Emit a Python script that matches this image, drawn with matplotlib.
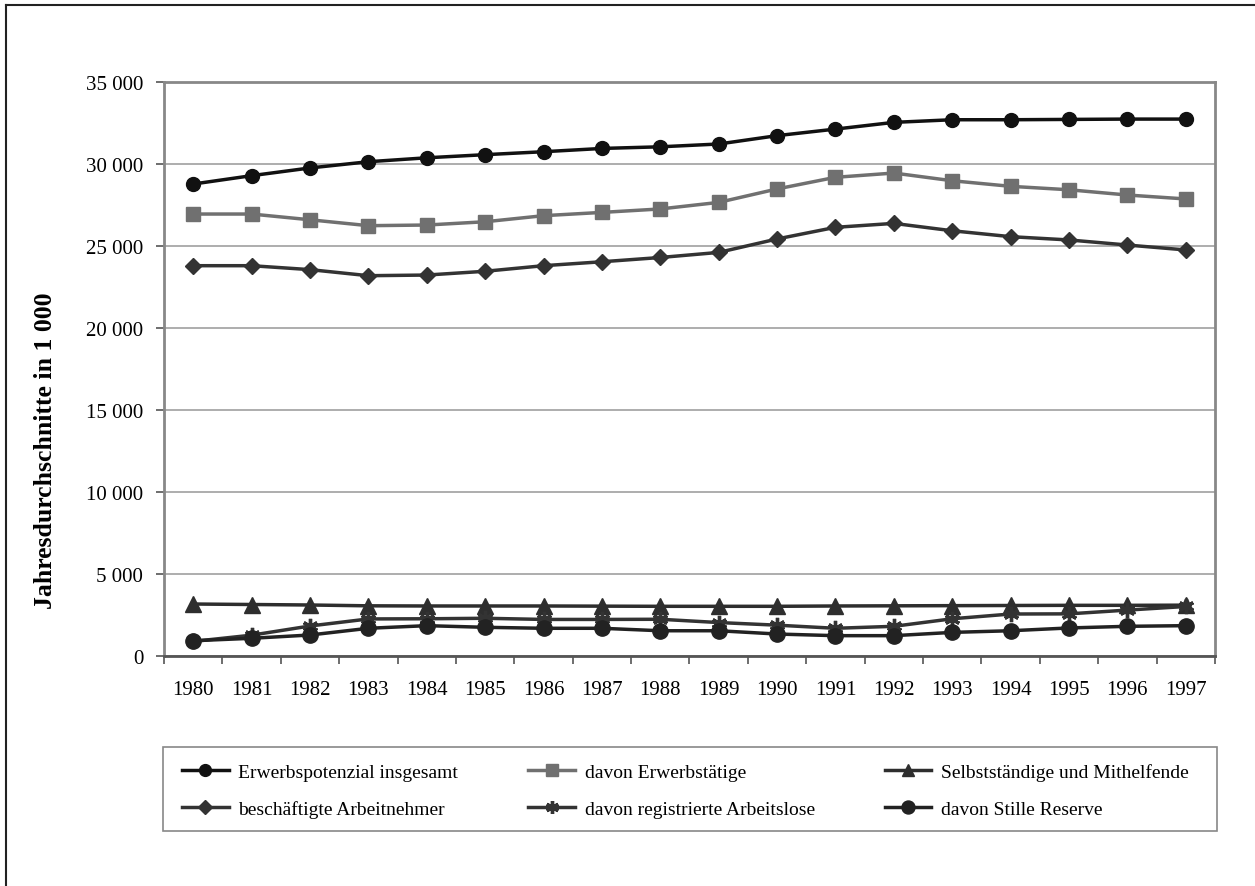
import matplotlib
matplotlib.use("Agg")
import matplotlib.pyplot as plt
from matplotlib.lines import Line2D
from matplotlib.patches import Rectangle
from matplotlib.ticker import FuncFormatter

plt.rcParams['font.family'] = ['Liberation Serif', 'DejaVu Serif']

years = [str(y) for y in range(1980, 1998)]

erwerbspotenzial = [28780, 29290, 29760, 30140, 30380, 30570, 30750, 30950, 31050,
                    31220, 31730, 32130, 32540, 32700, 32700, 32720, 32740, 32740]
erwerbstaetige = [26950, 26950, 26600, 26240, 26280, 26480, 26850, 27050, 27260,
                  27660, 28480, 29190, 29450, 28980, 28640, 28430, 28110, 27870]
selbststaendige = [3170, 3140, 3110, 3060, 3050, 3050, 3050, 3040, 3030,
                   3030, 3030, 3050, 3060, 3070, 3080, 3090, 3090, 3100]
arbeitnehmer = [23800, 23800, 23560, 23190, 23230, 23460, 23800, 24040, 24300,
                24610, 25430, 26140, 26380, 25930, 25570, 25370, 25060, 24760]
arbeitslose = [890, 1270, 1830, 2260, 2270, 2300, 2230, 2230, 2240,
               2040, 1880, 1690, 1810, 2270, 2560, 2570, 2800, 3020]
stille_reserve = [930, 1080, 1280, 1690, 1850, 1750, 1690, 1690, 1540,
                  1540, 1340, 1240, 1240, 1440, 1540, 1710, 1810, 1850]

labels = ["Erwerbspotenzial insgesamt", "davon Erwerbstätige", "Selbstständige und Mithelfende",
          "beschäftigte Arbeitnehmer", "davon registrierte Arbeitslose", "davon Stille Reserve"]

fig = plt.figure(figsize=(12.55, 8.87), dpi=100)
ax = fig.add_axes([0.1307, 0.2593, 0.8374, 0.6471])

x = range(len(years))
l1, = ax.plot(x, erwerbspotenzial, color='#111111', lw=2.5, marker='o', ms=10, label=labels[0])
l2, = ax.plot(x, erwerbstaetige, color='#707070', lw=2.5, marker='s', ms=10, label=labels[1])
l4, = ax.plot(x, arbeitnehmer, color='#333333', lw=2.5, marker='D', ms=8, label=labels[3])
l3, = ax.plot(x, selbststaendige, color='#2e2e2e', lw=2.5, marker='^', ms=11, label=labels[2])
l5, = ax.plot(x, arbeitslose, color='#333333', lw=2.5, marker=(6, 2, 0), ms=11, mew=2.4, label=labels[4])
l6, = ax.plot(x, stille_reserve, color='#222222', lw=2.5, marker='o', ms=11, label=labels[5])

ax.set_xlim(-0.5, len(years) - 0.5)
ax.set_ylim(0, 35000)
ax.set_yticks(range(0, 35001, 5000))
ax.yaxis.set_major_formatter(FuncFormatter(lambda v, p: f"{int(v):,}".replace(",", " ")))
ax.set_xticks(list(x))
ax.set_xticklabels(years)
ax.set_xticks([i - 0.5 for i in range(len(years) + 1)], minor=True)
ax.tick_params(axis='x', which='major', length=0, pad=17, labelsize=15)
ax.tick_params(axis='x', which='minor', length=6, width=1.2, color='#555555')
ax.tick_params(axis='y', length=6, width=1.2, color='#555555', labelsize=15, pad=9)
ax.yaxis.grid(True, color='#a0a0a0', lw=1.2)
ax.set_axisbelow(True)
for s in ['top', 'right', 'left']:
    ax.spines[s].set_color('#888888')
    ax.spines[s].set_linewidth(2)
ax.spines['bottom'].set_color('#555555')
ax.spines['bottom'].set_linewidth(2)

# y title sits lower than the axis centre in the original
fig.text(45 / 1255, (887 - 451) / 887, "Jahresdurchschnitte in 1 000", rotation=90,
         fontsize=18.5, fontweight='bold', ha='center', va='center')

# legend box drawn separately so the columns can sit like in the original
fig.add_artist(Rectangle((163 / 1255, (887 - 832) / 887), (1217 - 163) / 1255, 84 / 887,
                         transform=fig.transFigure, fill=False, edgecolor='#888888', lw=1.2))
handles = [l1, l4, l2, l5, l3, l6]
leg = fig.legend(handles=handles, labels=[h.get_label() for h in handles], ncol=3,
                 loc='center left', bbox_to_anchor=(182 / 1255, (887 - 791.5) / 887),
                 fontsize=14, frameon=False, borderaxespad=0, borderpad=0,
                 handlelength=2.4, handletextpad=0.5, columnspacing=3.6,
                 markerscale=0.85, labelspacing=1.0)

fig.add_artist(Line2D([0.005, 0.005], [0, 0.993], color='#222222', lw=1.5, transform=fig.transFigure))
fig.add_artist(Line2D([0.005, 1], [0.993, 0.993], color='#222222', lw=1.5, transform=fig.transFigure))

fig.savefig("out.png", dpi=100)
